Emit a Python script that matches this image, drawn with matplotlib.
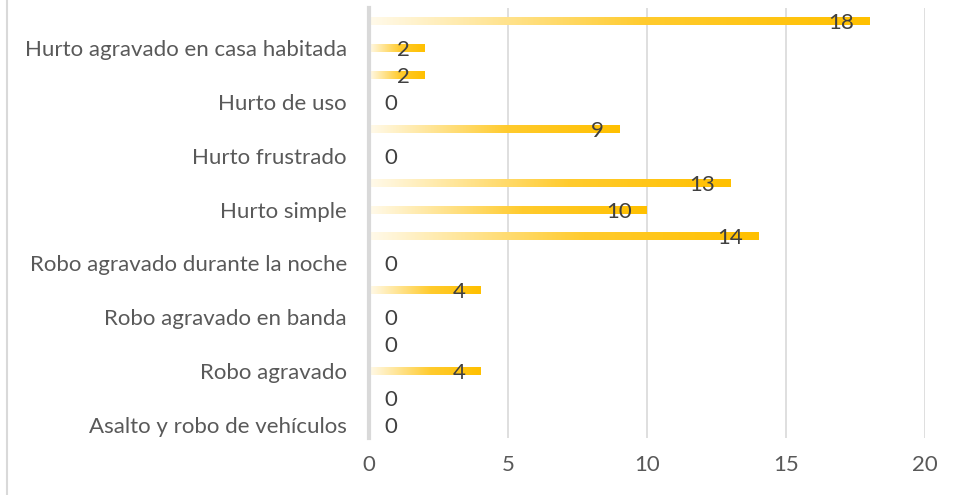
import matplotlib
matplotlib.use("Agg")
import matplotlib.pyplot as plt
import numpy as np
from matplotlib.colors import LinearSegmentedColormap
from matplotlib.transforms import offset_copy

# Data (bottom to top)
categories = [
    "Asalto y robo de vehículos", "", "Robo agravado", "",
    "Robo agravado en banda", "", "Robo agravado durante la noche", "",
    "Hurto simple", "", "Hurto frustrado", "", "Hurto de uso", "",
    "Hurto agravado en casa habitada", "",
]
values = [0, 0, 4, 0, 0, 4, 0, 14, 10, 13, 0, 9, 0, 2, 2, 18]
x_ticks = [0, 5, 10, 15, 20]

W, H = 957, 495
fig = plt.figure(figsize=(W / 100, H / 100), dpi=100)
ax = fig.add_axes([369 / W, 1 - 438 / H, (925 - 369) / W, (438 - 8) / H])

font = "Lato"
fs = 16
txt_col = "#404040"
tick_col = "#595959"

n = len(values)
y = np.arange(n)
bars = ax.barh(y, values, height=0.3, color="none", edgecolor="none", zorder=3)

cmap = LinearSegmentedColormap.from_list(
    "gold", [(0, "#fffaeb"), (0.55, "#ffcb2e"), (1.0, "#ffc000")])
grad = np.linspace(0, 1, 256).reshape(1, -1)
for b in bars:
    w = b.get_width()
    if w <= 0:
        continue
    x0, y0, h = b.get_x(), b.get_y(), b.get_height()
    im = ax.imshow(grad, cmap=cmap, aspect="auto", extent=(x0, x0 + w, y0, y0 + h),
                   zorder=3, interpolation="bilinear")
    im.set_clip_path(b)

ax.set_xlim(0, 20)
ax.set_ylim(-0.5, n - 0.5)
ax.set_xticks(x_ticks)
ax.set_xticklabels([str(t) for t in x_ticks], fontfamily=font, fontsize=fs, color=tick_col)
ax.set_yticks(y)
ax.set_yticklabels(categories, fontfamily=font, fontsize=fs, color=tick_col)
ax.tick_params(axis="both", length=0)
ax.tick_params(axis="y", pad=16)
ax.tick_params(axis="x", pad=12)

ax.grid(axis="x", color="#d9d9d9", linewidth=1.2, zorder=0)
for s in ["top", "right", "bottom"]:
    ax.spines[s].set_visible(False)
ax.spines["left"].set_color("#d9d9d9")
ax.spines["left"].set_linewidth(3)
ax.spines["left"].set_zorder(4)

for yi, v in zip(y, values):
    if v > 0:
        tr = offset_copy(ax.transData, fig=fig, x=-15, y=-2, units="dots")
        ax.text(v, yi, str(v), ha="right", va="center", fontfamily=font,
                fontsize=fs, color=txt_col, transform=tr, zorder=5)
    else:
        tr = offset_copy(ax.transData, fig=fig, x=15, y=-2, units="dots")
        ax.text(v, yi, str(v), ha="left", va="center", fontfamily=font,
                fontsize=fs, color=txt_col, transform=tr, zorder=5)

# chart border (left edge visible)
fig.add_artist(plt.Line2D([7.5 / W, 7.5 / W], [0, 1], transform=fig.transFigure,
                          color="#d9d9d9", linewidth=1.5))

fig.savefig("out.png", dpi=100)
